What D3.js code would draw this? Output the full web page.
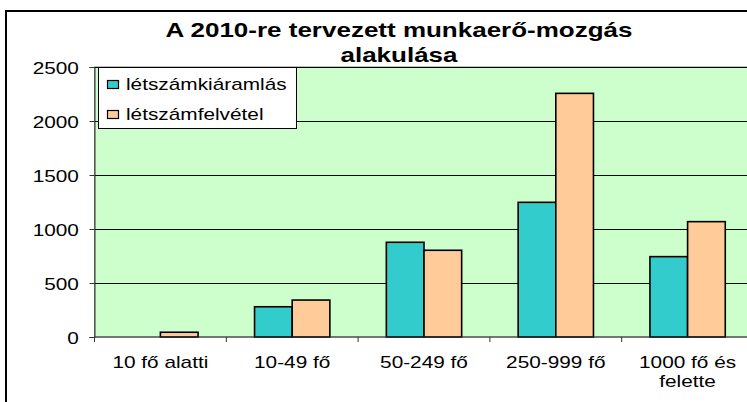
<!DOCTYPE html>
<html>
<head>
<meta charset="utf-8">
<script src="https://cdn.jsdelivr.net/npm/d3@7"></script>
<style>
  html, body { margin: 0; padding: 0; background: #fff; }
  svg { display: block; font-family: "Liberation Sans", Arial, sans-serif; }
</style>
</head>
<body>
<svg id="chart" width="747" height="402"></svg>
<script>
// Létszámváltozás vállalatméret szerint
const categories = ["10 fő alatti", "10-49 fő", "50-249 fő", "250-999 fő", "1000 fő és\nfelette"];
const seriesNames = ["létszámkiáramlás", "létszámfelvétel"];
const kiaramlas = [0, 280, 877, 1247, 744];
const felvetel = [44, 342, 803, 2256, 1068];
const yTicks = [0, 500, 1000, 1500, 2000, 2500];
const titleLines = ["A 2010-re tervezett munkaerő-mozgás", "alakulása"];

const colors = ["#33CCCC", "#FFCC99"];
const SX = 1.3; // horizontal text widening

const svg = d3.select("#chart");

// outer chart frame
svg.append("rect")
  .attr("x", 6).attr("y", 11).attr("width", 800).attr("height", 450)
  .attr("fill", "#fff").attr("stroke", "#000").attr("stroke-width", 2);

const plot = { left: 94.5, top: 67, right: 753.5, bottom: 337 };

const x = d3.scaleBand().domain(categories).range([plot.left, plot.right]).paddingInner(0).paddingOuter(0);
const xs = d3.scaleBand().domain(seriesNames).range([0, x.bandwidth()]).paddingInner(0).paddingOuter(0.75);
const y = d3.scaleLinear().domain([0, 2500]).range([plot.bottom, plot.top]);

// plot background
svg.append("rect")
  .attr("x", plot.left).attr("y", plot.top)
  .attr("width", plot.right - plot.left).attr("height", plot.bottom - plot.top)
  .attr("fill", "#CCFFCC").attr("stroke", "#808080").attr("stroke-width", 1);

// gridlines
svg.append("g").selectAll("line")
  .data(yTicks.filter(d => d > 0))
  .join("line")
  .attr("x1", plot.left).attr("x2", plot.right)
  .attr("y1", d => Math.round(y(d)) + 0.5).attr("y2", d => Math.round(y(d)) + 0.5)
  .attr("stroke", "#000").attr("stroke-width", 1);

// bars
const rows = categories.map((c, i) => ({ cat: c, values: [kiaramlas[i], felvetel[i]] }));
svg.append("g").selectAll("g")
  .data(rows)
  .join("g")
  .attr("transform", d => `translate(${x(d.cat)},0)`)
  .selectAll("rect")
  .data(d => d.values.map((v, j) => ({ name: seriesNames[j], v, j })).filter(d => d.v > 0))
  .join("rect")
  .attr("x", d => xs(d.name))
  .attr("width", xs.bandwidth())
  .attr("y", d => y(d.v))
  .attr("height", d => y(0) - y(d.v))
  .attr("fill", d => colors[d.j])
  .attr("stroke", "#000").attr("stroke-width", 1.6);

// y axis
const yAxis = svg.append("g")
  .attr("transform", `translate(${plot.left},0)`)
  .call(d3.axisLeft(y).tickValues(yTicks).tickSize(5).tickPadding(7).tickFormat(d3.format("d")));
yAxis.select(".domain").attr("stroke", "#333");
yAxis.selectAll(".tick line").attr("stroke", "#333");
yAxis.selectAll(".tick text")
  .attr("font-size", 16).attr("fill", "#000")
  .attr("font-family", "Liberation Sans, Arial, sans-serif")
  .attr("dy", "0.38em")
  .attr("transform", `scale(${SX},1)`);

// x axis line and boundary ticks
svg.append("line")
  .attr("x1", plot.left).attr("x2", plot.right)
  .attr("y1", plot.bottom).attr("y2", plot.bottom)
  .attr("stroke", "#333");
const bounds = categories.map(c => x(c)).concat([plot.right]);
svg.append("g").selectAll("line")
  .data(bounds)
  .join("line")
  .attr("x1", d => d).attr("x2", d => d)
  .attr("y1", plot.bottom).attr("y2", plot.bottom + 5)
  .attr("stroke", "#333");

// x labels
const xl = svg.append("g").selectAll("g")
  .data(categories)
  .join("g")
  .attr("transform", d => `translate(${x(d) + x.bandwidth() / 2},368) scale(${SX},1)`);
xl.each(function (d) {
  const lines = d.split("\n");
  d3.select(this).selectAll("text")
    .data(lines)
    .join("text")
    .attr("y", (l, i) => i * 19)
    .attr("text-anchor", "middle")
    .attr("font-size", 16)
    .attr("fill", "#000")
    .text(l => l);
});

// title
svg.append("g").selectAll("text")
  .data(titleLines)
  .join("text")
  .attr("transform", (d, i) => `translate(399,${37 + i * 25}) scale(${SX},1)`)
  .attr("text-anchor", "middle")
  .attr("font-size", 20).attr("font-weight", "bold").attr("fill", "#000")
  .text(d => d);

// legend
const lg = svg.append("g");
lg.append("rect")
  .attr("x", 98.5).attr("y", 67.5).attr("width", 198).attr("height", 61)
  .attr("fill", "#fff").attr("stroke", "#000").attr("stroke-width", 1);
const items = lg.selectAll("g.item")
  .data(seriesNames)
  .join("g")
  .attr("class", "item")
  .attr("transform", (d, i) => `translate(0,${84.5 + i * 30})`);
items.append("rect")
  .attr("x", 107.5).attr("y", -4).attr("width", 11).attr("height", 8)
  .attr("fill", (d, i) => colors[i]).attr("stroke", "#000").attr("stroke-width", 1.2);
items.append("text")
  .attr("transform", `translate(126,5.5) scale(${SX},1)`)
  .attr("font-size", 16).attr("fill", "#000")
  .text(d => d);
</script>
</body>
</html>
